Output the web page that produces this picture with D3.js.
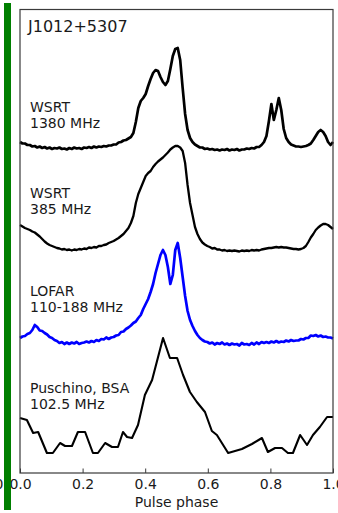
<!DOCTYPE html>
<html><head><meta charset="utf-8">
<script src="https://cdn.jsdelivr.net/npm/d3@7"></script>
<style>
body{margin:0;background:#fff}
svg{display:block;background:#fff}
text{font-family:"DejaVu Sans",sans-serif;fill:#1a1a1a}
</style>
</head><body><svg id="c" width="338" height="513"></svg>
<script>
// ---------------- data ----------------
const title = "J1012+5307";
const profileNames = ["WSRT 1380 MHz", "WSRT 385 MHz", "LOFAR 110-188 MHz", "Puschino BSA 102.5 MHz"];
const labelLines = [["WSRT", "1380 MHz"], ["WSRT", "385 MHz"], ["LOFAR", "110-188 MHz"], ["Puschino, BSA", "102.5 MHz"]];
const offsets = [3.25, 2.25, 1.30, 0.20];
const colors = ["#000000", "#000000", "#0000ff", "#000000"];

// WSRT 1380 MHz, 128 phase bins
const wsrt1380 = [
 0.06,0.045,0.045,0.03,0.03,0.015,0.02,0.005,0.015,0.0,
 0.01,-0.005,0.005,-0.01,0.0,-0.005,0.005,-0.01,-0.005,-0.015,
 0.0,-0.01,0.005,-0.005,0.0,-0.01,0.005,0.0,0.01,0.0,
 0.015,0.005,0.015,0.01,0.02,0.015,0.025,0.025,0.035,0.035,
 0.055,0.06,0.075,0.08,0.095,0.11,0.15,0.26,0.40,0.47,
 0.50,0.54,0.62,0.69,0.75,0.78,0.77,0.71,0.66,0.63,
 0.67,0.79,0.92,0.99,1.00,0.88,0.60,0.34,0.18,0.10,
 0.06,0.035,0.02,0.005,0.005,-0.01,-0.005,-0.015,-0.01,-0.02,
 -0.015,-0.025,-0.015,-0.02,-0.01,-0.025,-0.015,-0.02,-0.01,-0.025,
 -0.015,-0.015,-0.005,-0.01,0.0,-0.005,0.01,0.01,0.03,0.06,
 0.12,0.27,0.44,0.28,0.38,0.50,0.38,0.19,0.10,0.06,
 0.035,0.025,0.015,0.015,0.01,0.015,0.02,0.03,0.045,0.08,
 0.12,0.16,0.18,0.16,0.12,0.06,0.03,0.06
];

// WSRT 385 MHz, 128 phase bins
const wsrt385 = [
 0.23,0.215,0.20,0.19,0.18,0.165,0.155,0.135,0.115,0.09,
 0.065,0.045,0.03,0.02,0.01,0,-0.005,-0.015,-0.01,-0.02,
 -0.015,-0.025,-0.015,-0.02,-0.01,-0.015,-0.005,-0.01,0.005,0,
 0.01,0.005,0.02,0.02,0.03,0.035,0.05,0.06,0.07,0.085,
 0.10,0.12,0.14,0.17,0.20,0.25,0.32,0.45,0.54,0.60,
 0.66,0.72,0.75,0.77,0.81,0.84,0.865,0.885,0.905,0.93,
 0.955,0.985,1.005,1.02,1.02,1.005,0.97,0.85,0.63,0.45,
 0.33,0.21,0.14,0.09,0.055,0.035,0.02,0.01,-0.005,0,
 -0.015,-0.015,-0.025,-0.02,-0.03,-0.025,-0.03,-0.025,-0.03,-0.035,
 -0.025,-0.03,-0.025,-0.03,-0.02,-0.025,-0.02,-0.025,-0.015,-0.01,
 -0.005,0,0,0.005,0.01,0.005,0.01,0.005,0.005,0,
 -0.005,-0.01,-0.01,-0.015,-0.01,0,0.02,0.06,0.105,0.14,
 0.18,0.205,0.225,0.24,0.24,0.23,0.21,0.19
];

// LOFAR 110-188 MHz, 128 phase bins
const lofar = [
 0.05,0.065,0.07,0.09,0.10,0.13,0.18,0.16,0.125,0.12,
 0.10,0.085,0.06,0.05,0.03,0.02,0.0,0.01,-0.01,0.005,
 -0.01,0.005,-0.005,0.01,-0.01,0.0,0.005,0.015,0.005,0.02,
 0.01,0.03,0.02,0.04,0.035,0.055,0.04,0.055,0.06,0.075,
 0.08,0.11,0.115,0.14,0.155,0.175,0.20,0.215,0.25,0.28,
 0.34,0.39,0.44,0.51,0.59,0.70,0.79,0.88,0.93,0.88,
 0.76,0.59,0.68,0.93,1.00,0.85,0.66,0.47,0.32,0.23,
 0.17,0.12,0.08,0.05,0.03,0.015,0.01,-0.005,0.005,-0.015,
 0.0,-0.01,0.005,-0.015,-0.005,-0.02,-0.005,-0.015,-0.01,-0.025,
 0.0,-0.015,-0.01,-0.02,0.0,-0.015,0.005,-0.01,0.01,0.0,
 0.01,0.0,0.015,0.005,0.02,0.005,0.015,0.01,0.025,0.015,
 0.03,0.02,0.025,0.025,0.04,0.035,0.05,0.05,0.075,0.07,
 0.08,0.065,0.075,0.06,0.065,0.055,0.055,0.045
];

// Puschino BSA 102.5 MHz (phase, intensity)
const pushPhase = [0,0.022,0.042,0.058,0.086,0.105,0.128,0.144,0.166,0.185,
 0.208,0.233,0.249,0.272,0.294,0.313,0.329,0.342,0.358,0.377,
 0.399,0.422,0.457,0.479,0.502,0.521,0.543,0.565,0.591,0.613,
 0.629,0.665,0.709,0.741,0.773,0.792,0.815,0.837,0.856,0.872,
 0.895,0.917,0.936,0.958,0.981,1.0];
const pushValue = [0.35,0.33,0.20,0.21,0,0,0.10,0.07,0.07,0.21,
 0.21,0,0,0.10,0.06,0.06,0.21,0.16,0.15,0.28,
 0.58,0.73,1.15,0.95,0.95,0.78,0.61,0.51,0.41,0.22,
 0.18,0,0.04,0.09,0.15,0.01,0.05,0.05,0,0,
 0.18,0.08,0.18,0.26,0.36,0.36];

const xTicks = [0, 0.2, 0.4, 0.6, 0.8, 1.0];
const xTickLabels = ["0.0", "0.2", "0.4", "0.6", "0.8", "1.0"];
const xTitle = "Pulse phase";

// ---------------- drawing ----------------
const W = 338, H = 513;
const L = 20, R = 333, T = 9.5, B = 473;
const svg = d3.select("#c");

const x = d3.scaleLinear().domain([0, 1]).range([L, R]);
const y = d3.scaleLinear().domain([0, 4.635]).range([B, T]);

const binned = [wsrt1380, wsrt385, lofar].map(arr =>
  arr.map((v, i) => [i / (arr.length - 1), v]));
const series = [...binned, pushPhase.map((p, i) => [p, pushValue[i]])];

const widths = [2.7, 2.3, 2.7, 2.1];
const line = off => d3.line().x(d => x(d[0])).y(d => y(d[1] + off));

series.forEach((s, k) => {
  svg.append("path")
    .datum(s)
    .attr("d", line(offsets[k]))
    .attr("fill", "none")
    .attr("stroke", colors[k])
    .attr("stroke-width", widths[k])
    .attr("stroke-linejoin", "round");
});

// frame
svg.append("rect").attr("x", L).attr("y", T).attr("width", R - L).attr("height", B - T)
  .attr("fill", "none").attr("stroke", "#3a3a3a").attr("stroke-width", 1.2);

// x axis (ticks inward)
const ax = svg.append("g").attr("transform", `translate(0,${B})`)
  .call(d3.axisBottom(x).tickValues(xTicks).tickFormat((d, i) => xTickLabels[i])
    .tickSizeInner(-4.5).tickSizeOuter(0).tickPadding(6));
ax.select(".domain").remove();
ax.selectAll(".tick line").attr("stroke", "#3a3a3a").attr("stroke-width", 1);
ax.selectAll(".tick text").attr("font-family", "DejaVu Sans").attr("font-size", 14).attr("fill", "#1a1a1a");

svg.append("text").attr("x", (L + R) / 2).attr("y", 507).attr("text-anchor", "middle")
  .attr("font-size", 14).text(xTitle);

// title
svg.append("text").attr("x", 28).attr("y", 32).attr("font-size", 16).text(title);

// labels
const labelBase = [112, 198, 296, 393];
labelLines.forEach((ls, k) => {
  ls.forEach((t, j) => {
    svg.append("text").attr("x", 30).attr("y", labelBase[k] + j * 16)
      .attr("font-size", 14).text(t);
  });
});

// neighbouring panel remnant + green highlight frame edge
svg.append("text").attr("x", 3.5).attr("y", 489).attr("text-anchor", "end")
  .attr("font-size", 14).text("1.0");
svg.append("rect").attr("x", 4).attr("y", 3).attr("width", 7).attr("height", 507).attr("fill", "#007f00");
</script>
</body></html>
